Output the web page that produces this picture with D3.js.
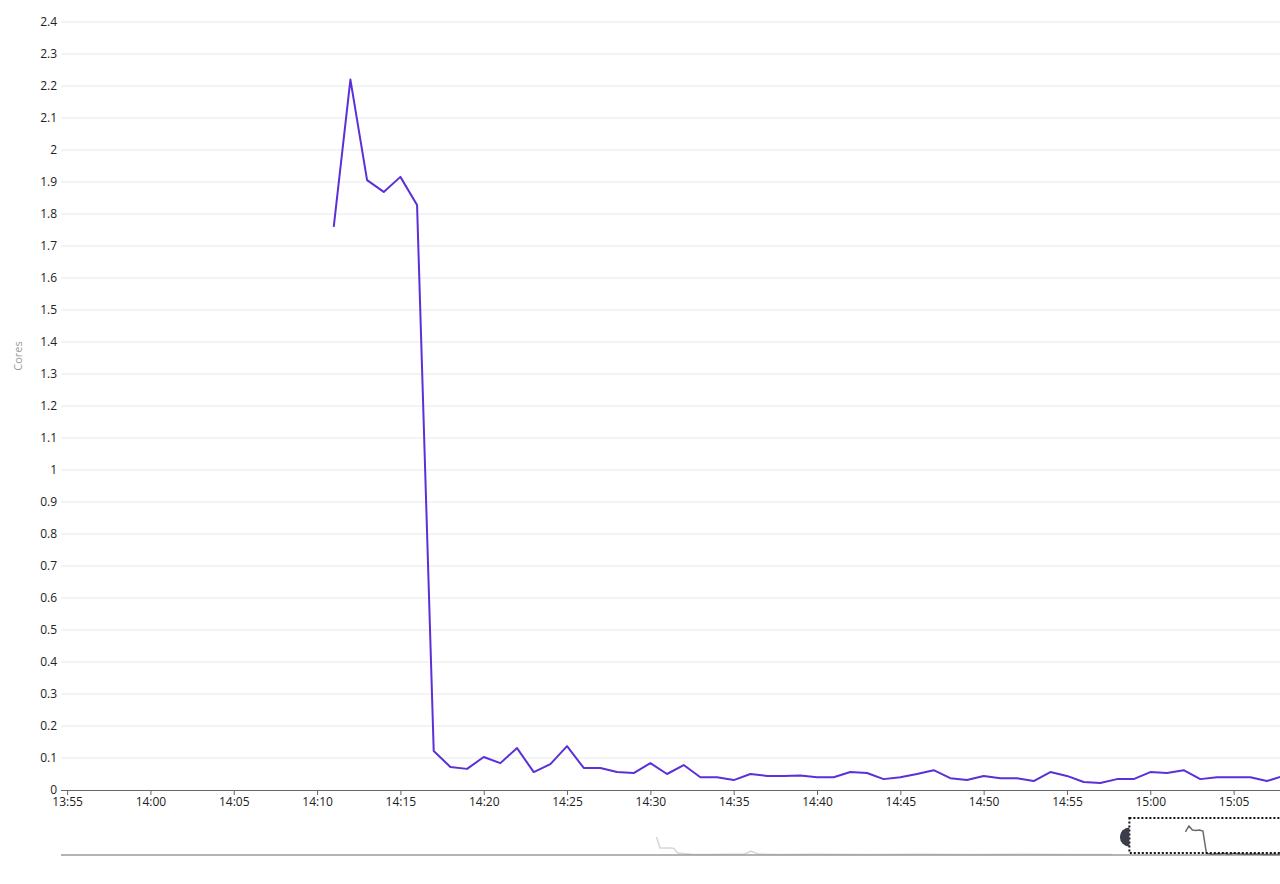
<!DOCTYPE html>
<html>
<head>
<meta charset="utf-8">
<script src="https://cdn.jsdelivr.net/npm/d3@7"></script>
<style>
  html, body { margin: 0; padding: 0; background: #fff; overflow: hidden; }
  svg { display: block; font-family: "Open Sans", "Noto Sans", sans-serif; }
</style>
</head>
<body>
<svg id="chart" width="1280" height="884"></svg>
<script>
// ---------------- data ----------------
const seriesTimes = ["14:11","14:12","14:13","14:14","14:15","14:16","14:17","14:18","14:19","14:20",
  "14:21","14:22","14:23","14:24","14:25","14:26","14:27","14:28","14:29","14:30",
  "14:31","14:32","14:33","14:34","14:35","14:36","14:37","14:38","14:39","14:40",
  "14:41","14:42","14:43","14:44","14:45","14:46","14:47","14:48","14:49","14:50",
  "14:51","14:52","14:53","14:54","14:55","14:56","14:57","14:58","14:59","15:00",
  "15:01","15:02","15:03","15:04","15:05","15:06","15:07","15:08"];
const seriesValues = [1.76, 2.22, 1.906, 1.869, 1.916, 1.828, 0.122, 0.072, 0.066, 0.103,
  0.084, 0.131, 0.056, 0.081, 0.137, 0.069, 0.069, 0.056, 0.053, 0.084,
  0.05, 0.078, 0.04, 0.04, 0.031, 0.05, 0.044, 0.044, 0.045, 0.04,
  0.04, 0.056, 0.053, 0.034, 0.04, 0.05, 0.062, 0.037, 0.031, 0.044,
  0.037, 0.037, 0.028, 0.056, 0.044, 0.025, 0.022, 0.034, 0.034, 0.056,
  0.053, 0.062, 0.034, 0.04, 0.04, 0.04, 0.028, 0.044];

// earlier history shown only in the overview strip
const historyTimes = ["11:40","11:41","11:44","11:45","11:46","11:50","11:55","12:00","12:05","12:07",
  "12:09","12:15","12:25","12:40","12:55","13:10","13:25","13:40","13:50"];
const historyValues = [1.38, 0.53, 0.53, 0.5, 0.15, 0.05, 0.04, 0.05, 0.06, 0.3,
  0.07, 0.04, 0.05, 0.04, 0.05, 0.04, 0.05, 0.04, 0.04];

const yTicks = d3.range(0, 25).map(i => +(i / 10).toFixed(1));
const xTickTimes = ["13:55","14:00","14:05","14:10","14:15","14:20","14:25","14:30","14:35","14:40",
  "14:45","14:50","14:55","15:00","15:05"];
const xDomainTimes = ["13:54:38", "15:07:47"];
const yDomain = [0, 2.4];
const overviewDomainTimes = ["08:50", "14:38"];
const brushTimes = ["13:55", "15:08"];
const yLabel = "Cores";

// ---------------- helpers ----------------
const parse = s => {
  const p = s.split(":").map(Number);
  return new Date(2024, 0, 1, p[0], p[1], p[2] || 0);
};
const data = seriesTimes.map((t, i) => ({ t: parse(t), v: seriesValues[i] }));
const hist = historyTimes.map((t, i) => ({ t: parse(t), v: historyValues[i] }));

const svg = d3.select("#chart");
const W = 1280;
const mLeft = 61, mTop = 22, mBottom = 790;

// ---------------- main chart ----------------
const x = d3.scaleTime().domain(xDomainTimes.map(parse)).range([mLeft, W]);
const y = d3.scaleLinear().domain(yDomain).range([mBottom, mTop]);

const defs = svg.append("defs");
defs.append("clipPath").attr("id", "clip")
  .append("rect").attr("x", mLeft).attr("y", 0).attr("width", W - mLeft).attr("height", mBottom + 2);

// grid lines
svg.append("g").selectAll("line").data(yTicks.filter(d => d > 0)).join("line")
  .attr("x1", mLeft).attr("x2", W)
  .attr("y1", d => y(d)).attr("y2", d => y(d))
  .attr("stroke", "#e9e9e9").attr("stroke-width", 1);

// y axis labels
const yAxis = d3.axisLeft(y).tickValues(yTicks).tickSize(0).tickPadding(4)
  .tickFormat(d => d3.format("~g")(d));
const gy = svg.append("g").attr("transform", `translate(${mLeft},0)`).call(yAxis);
gy.select(".domain").remove();
gy.selectAll("text").attr("font-size", 12).attr("fill", "#222")
  .attr("font-family", "'Open Sans', sans-serif");

// x axis
const xAxis = d3.axisBottom(x).tickValues(xTickTimes.map(parse)).tickSize(5).tickPadding(2)
  .tickFormat(d3.timeFormat("%H:%M"));
const gx = svg.append("g").attr("transform", `translate(0,${mBottom})`).call(xAxis);
gx.select(".domain").attr("stroke", "#666").attr("stroke-width", 1.2)
  .attr("d", `M${mLeft},0.5H${W}`);
gx.selectAll(".tick line").attr("stroke", "#666");
gx.selectAll("text").attr("font-size", 12).attr("fill", "#222")
  .attr("font-family", "'Open Sans', sans-serif");

// y label
svg.append("text")
  .attr("transform", `translate(22,${(mTop + mBottom) / 2 - 50}) rotate(-90)`)
  .attr("text-anchor", "middle")
  .attr("font-size", 11).attr("fill", "#999")
  .text(yLabel);

// line
const line = d3.line().x(d => x(d.t)).y(d => y(d.v));
svg.append("path").datum(data)
  .attr("clip-path", "url(#clip)")
  .attr("fill", "none").attr("stroke", "#5b30d6").attr("stroke-width", 2)
  .attr("stroke-linejoin", "round")
  .attr("d", line);

// ---------------- overview strip ----------------
const ox = d3.scaleTime().domain(overviewDomainTimes.map(parse)).range([mLeft, W]);
const oy = d3.scaleLinear().domain(yDomain).range([855, 823.6]);
const oline = d3.line().x(d => ox(d.t)).y(d => oy(d.v));

defs.append("clipPath").attr("id", "oclip")
  .append("rect").attr("x", mLeft).attr("y", 800).attr("width", W - mLeft).attr("height", 70);

const og = svg.append("g").attr("clip-path", "url(#oclip)");

og.append("path").datum(hist)
  .attr("fill", "none").attr("stroke", "#d6d6d6").attr("stroke-width", 1.5)
  .attr("d", oline);

og.append("line").attr("x1", mLeft).attr("x2", W).attr("y1", 855).attr("y2", 855)
  .attr("stroke", "#9a9a9a").attr("stroke-width", 1.5);

og.append("path").datum(data)
  .attr("fill", "none").attr("stroke", "#6a6a6a").attr("stroke-width", 1.5)
  .attr("d", oline);

// brush selection
const bx0 = ox(parse(brushTimes[0])), bx1 = ox(parse(brushTimes[1]));
svg.append("rect")
  .attr("x", bx0).attr("y", 818).attr("width", bx1 - bx0).attr("height", 35)
  .attr("fill", "none").attr("stroke", "#111").attr("stroke-width", 2)
  .attr("stroke-dasharray", "2,2");

// handle (half circle on the left edge)
const r = 9.5, cy = 837;
svg.append("path")
  .attr("d", `M${bx0},${cy - r} A${r},${r} 0 0 0 ${bx0},${cy + r} Z`)
  .attr("fill", "#3a3d4a");
</script>
</body>
</html>
